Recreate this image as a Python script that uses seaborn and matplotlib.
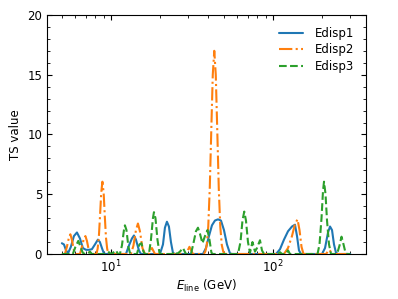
import matplotlib
matplotlib.use("Agg")
import matplotlib.pyplot as plt
import seaborn as sns
import pandas as pd
from matplotlib.ticker import MultipleLocator

# ---- data (E in GeV, TS value) ----
e_disp1 = [4.98, 5.13, 5.27, 5.43, 5.66, 5.91, 6.17, 6.44, 6.71, 7.01, 7.31, 7.63, 7.97, 8.31,
           8.55, 8.80, 9.05, 9.31, 12.38, 12.91, 13.48, 13.87, 14.27, 14.89, 15.32, 20.07, 20.95,
           21.54, 22.16, 22.80, 23.46, 24.14, 24.83, 36.97, 38.59, 40.27, 42.02, 43.86, 45.77,
           47.76, 49.84, 52.01, 54.28, 55.84, 104.4, 110.5, 116.9, 123.8, 131.0, 136.7, 140.7,
           144.7, 148.9, 200.7, 209.5, 218.6, 224.9, 231.4, 238.0, 244.9, 251.9, 300.0]
ts_disp1 = [0.9, 0.8, 0.35, 0.05, 0.6, 1.5, 1.8, 1.3, 0.5, 0.35, 0.35, 0.4, 0.8, 1.2,
            1.0, 0.5, 0.05, 0.0, 0.0, 0.7, 1.3, 1.55, 1.2, 0.3, 0.0, 0.0, 0.8,
            2.2, 2.7, 2.3, 1.0, 0.1, 0.0, 0.0, 0.5, 1.5, 2.4, 2.8, 2.9,
            2.8, 2.0, 0.8, 0.05, 0.0, 0.0, 0.4, 1.2, 1.9, 2.3, 2.45, 1.5,
            0.3, 0.0, 0.0, 0.5, 1.8, 2.3, 2.0, 0.8, 0.1, 0.0, 0.0]

e_disp2 = [4.98, 5.20, 5.35, 5.51, 5.62, 5.74, 5.91, 6.04, 6.44, 6.62, 6.81, 6.96, 7.11, 7.31,
           7.47, 8.14, 8.28, 8.42, 8.56, 8.71, 8.86, 9.02, 9.17, 9.32, 9.48, 9.65, 13.29, 13.77,
           14.27, 14.68, 15.10, 15.65, 16.21, 17.16, 17.91, 18.69, 29.04, 30.52, 32.07, 37.39,
           38.20, 39.03, 39.87, 40.73, 41.61, 42.51, 43.43, 44.36, 45.32, 46.29, 47.29, 48.31,
           49.35, 50.41, 116.9, 123.8, 131.0, 136.7, 141.7, 145.8, 150.0, 154.3, 212.5, 221.7,
           231.4, 238.0, 300.0]
ts_disp2 = [0.0, 0.0, 0.6, 1.4, 1.65, 1.2, 0.3, 0.0, 0.0, 0.6, 1.3, 1.5, 1.1, 0.3,
            0.0, 0.0, 0.44, 1.38, 3.12, 5.1, 6.05, 5.1, 3.12, 1.38, 0.44, 0.0, 0.0, 0.7,
            2.0, 2.55, 1.9, 0.5, 0.0, 0.0, 0.5, 0.0, 0.0, 0.6, 0.0, 0.0,
            0.19, 0.75, 2.3, 5.5, 10.3, 15.0, 17.0, 15.0, 10.3, 5.5, 2.3, 0.75,
            0.19, 0.0, 0.0, 0.5, 1.5, 2.5, 2.9, 2.0, 0.6, 0.0, 0.0, 0.35,
            0.1, 0.0, 0.0]

e_disp3 = [4.98, 5.82, 6.04, 6.29, 6.53, 6.71, 6.91, 7.21, 7.42, 7.63, 9.44, 9.72, 10.0, 10.29,
           10.74, 11.05, 11.36, 11.69, 12.03, 12.20, 12.47, 12.82, 13.10, 13.38, 14.47, 15.00,
           15.43, 15.88, 16.21, 17.16, 17.66, 18.17, 18.43, 18.83, 19.37, 19.93, 20.36, 23.80,
           24.83, 25.55, 26.67, 27.83, 29.04, 31.18, 32.30, 33.47, 34.44, 35.43, 36.71, 38.05,
           39.42, 40.56, 41.72, 42.62, 60.81, 63.02, 64.83, 66.50, 68.13, 70.10, 72.12, 74.73,
           77.43, 79.67, 83.14, 85.54, 88.0, 107.4, 110.5, 113.6, 120.3, 123.8, 127.3, 188.3,
           193.7, 199.3, 203.6, 206.5, 211.0, 215.5, 221.7, 228.1, 248.4, 257.3, 264.8, 272.5,
           280.3, 286.3, 300.0]
ts_disp3 = [0.0, 0.0, 0.6, 1.1, 0.5, 0.1, 0.0, 0.0, 0.2, 0.0, 0.0, 0.15, 0.0, 0.1,
            0.3, 0.0, 0.0, 0.7, 2.0, 2.4, 2.0, 0.6, 0.1, 0.0, 0.0, 0.8,
            0.9, 0.2, 0.0, 0.0, 1.2, 3.0, 3.5, 3.0, 1.2, 0.1, 0.0, 0.0,
            0.2, 0.0, 0.2, 0.5, 0.0, 0.0, 0.9, 1.9, 2.2, 1.7, 0.9, 1.5,
            2.0, 1.2, 0.1, 0.0, 0.0, 1.0, 2.8, 3.55, 2.8, 1.0, 0.1, 1.0,
            0.2, 0.5, 1.15, 0.3, 0.0, 0.0, 0.15, 0.0, 0.0, 0.3, 0.0, 0.0,
            0.8, 3.0, 5.3, 6.05, 5.0, 2.8, 0.8, 0.0, 0.0, 0.7, 1.45, 0.8,
            0.1, 0.0, 0.0]

series_names = ["Edisp1", "Edisp2", "Edisp3"]
x_label = r"$E_{\rm line}$ (GeV)"
y_label = "TS value"

sns.set_style("ticks")
plt.rcParams["font.family"] = ["DejaVu Sans"]
plt.rcParams["text.color"] = "black"
plt.rcParams["axes.labelcolor"] = "black"
plt.rcParams["xtick.color"] = "black"
plt.rcParams["ytick.color"] = "black"

fig = plt.figure(figsize=(3.98, 2.99), dpi=100)
ax = fig.add_axes([0.118, 0.1505, 0.8016, 0.7995])

colors = ["#1f77b4", "#ff7f0e", "#2ca02c"]
styles = ["-", "-.", "--"]
data = [(e_disp1, ts_disp1), (e_disp2, ts_disp2), (e_disp3, ts_disp3)]
for (xs, ys), name, c, ls in zip(data, series_names, colors, styles):
    df = pd.DataFrame({"E": xs, "TS": ys})
    sns.lineplot(data=df, x="E", y="TS", ax=ax, color=c, linestyle=ls,
                 linewidth=1.5, label=name, sort=True)

ax.set_xscale("log")
ax.set_xlim(4.03, 375)
ax.set_ylim(0, 20)
ax.yaxis.set_major_locator(MultipleLocator(5))
ax.yaxis.set_minor_locator(MultipleLocator(1))
ax.tick_params(which="both", direction="in", top=True, right=True, labelsize=8.5,
               colors="black")
ax.tick_params(which="major", length=3.5, width=0.8)
ax.tick_params(which="minor", length=2, width=0.6)
for sp in ax.spines.values():
    sp.set_linewidth(0.8)
    sp.set_color("black")

ax.set_xlabel(x_label, fontsize=8.5, labelpad=1.5)
ax.set_ylabel(y_label, fontsize=8.5)
ax.legend(loc="upper right", frameon=False, fontsize=8.5, handlelength=2.0,
          labelspacing=0.3, handletextpad=1.0, borderaxespad=0.6)

fig.savefig("out.png", dpi=100)
